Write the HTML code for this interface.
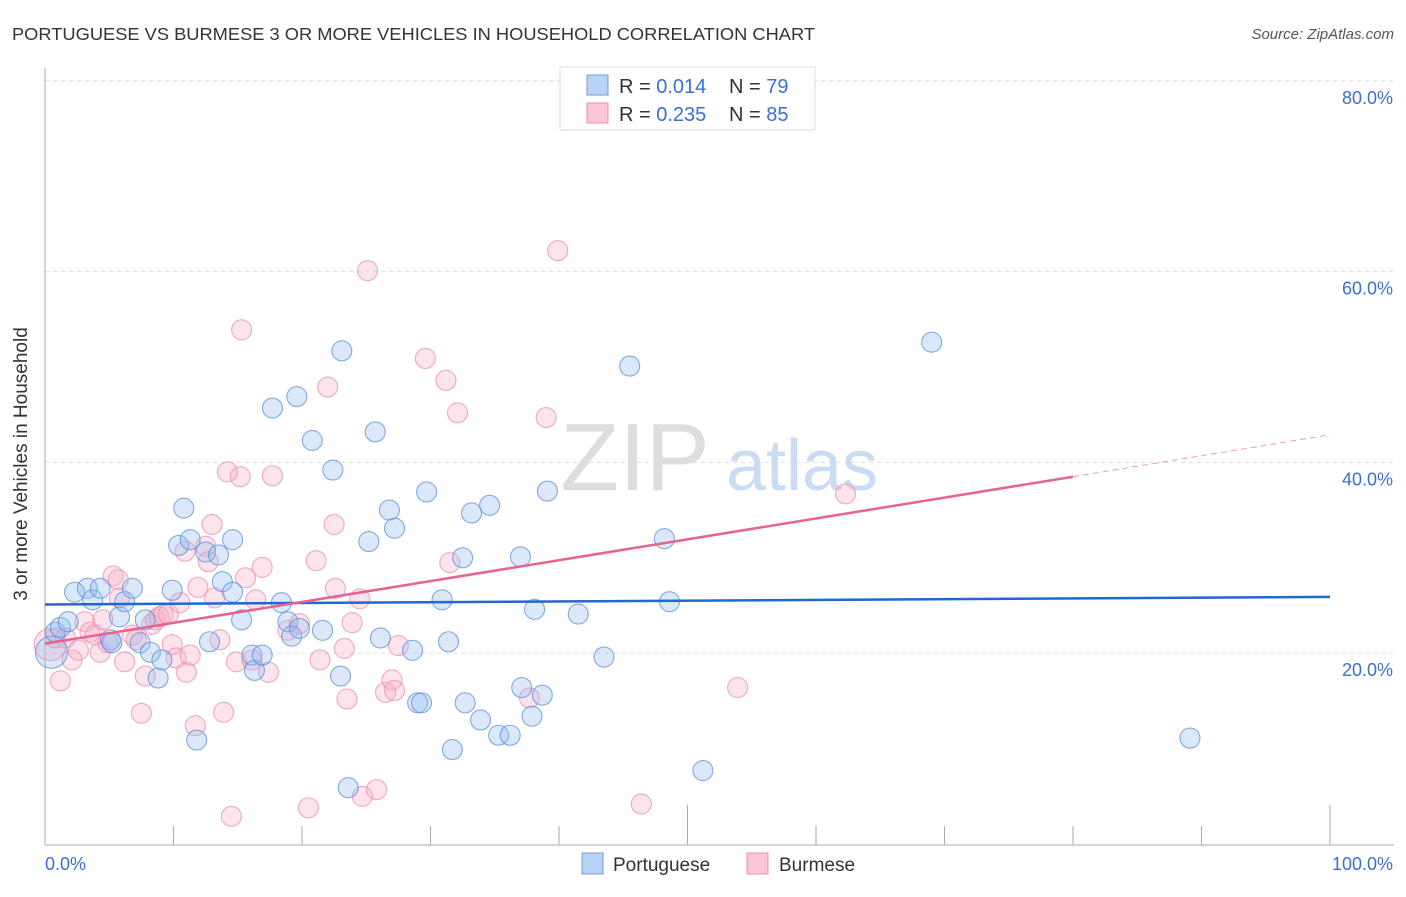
<!DOCTYPE html>
<html><head><meta charset="utf-8"><style>
body{margin:0;background:#fff;font-family:"Liberation Sans",sans-serif}
svg text{font-family:"Liberation Sans",sans-serif}
</style></head><body>
<svg width="1406" height="892" xmlns="http://www.w3.org/2000/svg">
<text x="12" y="40" font-size="17.5" fill="#333" textLength="803" lengthAdjust="spacingAndGlyphs">PORTUGUESE VS BURMESE 3 OR MORE VEHICLES IN HOUSEHOLD CORRELATION CHART</text>
<text x="1394" y="39" font-size="15" fill="#555" font-style="italic" text-anchor="end">Source: ZipAtlas.com</text>
<g id="grid"></g>
<g>
<text x="635" y="490" font-size="96" fill="#ddd" font-family="Liberation Serif" text-anchor="middle">ZIP</text>
<text x="802" y="490" font-size="72" fill="#c9dcf3" text-anchor="middle">atlas</text>
</g>
<g id="axes"></g>
<g id="pts"></g>
<g id="trend"></g>
<text x="18" y="455" font-size="19" fill="#333" text-anchor="middle" transform="rotate(-90 27 455)">3 or more Vehicles in Household</text>
<g>
<rect x="560" y="67" width="255" height="63" fill="#fff" stroke="#ddd"/>
<rect x="587" y="75" width="21" height="20" fill="#b9d3f5" stroke="#6d9be0"/>
<rect x="587" y="103" width="21" height="20" fill="#fac6d6" stroke="#e892ae"/>
<text x="619" y="93" font-size="20" fill="#333">R = <tspan fill="#3b6fd0">0.014</tspan></text>
<text x="729" y="93" font-size="20" fill="#333">N = <tspan fill="#3b6fd0">79</tspan></text>
<text x="619" y="121" font-size="20" fill="#333">R = <tspan fill="#3b6fd0">0.235</tspan></text>
<text x="729" y="121" font-size="20" fill="#333">N = <tspan fill="#3b6fd0">85</tspan></text>
</g>
<g>
<rect x="582" y="853" width="21" height="21" fill="#b9d3f5" stroke="#6d9be0"/>
<text x="613" y="871" font-size="19" fill="#333">Portuguese</text>
<rect x="747" y="853" width="21" height="21" fill="#fac6d6" stroke="#e892ae"/>
<text x="779" y="871" font-size="19" fill="#333">Burmese</text>
</g>
</svg>
<script>
const yTicks=[20,40,60,80];
const xTickLabels=["0.0%","100.0%"];
const blueX=[0.5,0.8,1.2,1.8,2.3,3.3,3.7,4.3,5.1,5.2,5.8,6.2,6.8,7.4,7.8,8.2,8.8,9.1,9.9,10.4,10.8,11.3,11.8,12.5,12.8,13.5,13.8,14.6,14.6,15.3,16.1,16.3,16.9,17.7,18.4,18.9,19.2,19.6,19.8,20.8,21.6,22.4,23.0,23.1,23.6,25.2,25.7,26.1,26.8,27.2,28.6,29.0,29.3,29.7,30.9,31.4,31.7,32.5,32.7,33.2,33.9,34.6,35.3,36.2,37.0,37.1,37.9,38.1,38.7,39.1,41.5,43.5,45.5,48.2,48.6,51.2,69.0,89.1];
const blueY=[20.1,22.2,22.7,23.3,26.4,26.8,25.6,26.8,21.4,21.1,23.8,25.4,26.8,21.1,23.5,20.1,17.4,19.3,26.6,31.3,35.2,31.9,10.9,30.6,21.2,30.3,27.5,26.4,31.9,23.5,19.8,18.2,19.8,45.7,25.3,23.3,21.8,46.9,22.6,42.3,22.4,39.2,17.6,51.7,5.9,31.7,43.2,21.6,35.0,33.1,20.3,14.8,14.8,36.9,25.6,21.2,9.9,30.0,14.8,34.7,13.0,35.5,11.4,11.4,30.1,16.4,13.4,24.6,15.6,37.0,24.1,19.6,50.1,32.0,25.4,7.7,52.6,11.1];
const pinkX=[0.4,0.8,1.2,1.6,2.1,2.6,3.1,3.5,3.9,4.3,4.5,4.9,5.3,5.7,5.8,6.2,6.8,7.1,7.5,7.8,8.3,8.6,8.9,9.2,9.6,9.9,10.2,10.5,10.9,11.0,11.3,11.7,11.9,12.5,12.7,13.0,13.2,13.6,13.9,14.2,14.5,14.9,15.2,15.3,15.6,16.1,16.4,16.9,17.4,17.7,18.9,19.8,20.5,21.1,21.4,22.0,22.5,22.6,23.3,23.5,23.9,24.5,24.7,25.1,25.8,26.5,27.0,27.2,27.5,29.6,31.5,31.2,32.1,37.7,39.0,39.9,46.4,53.9,62.3];
const pinkY=[20.9,21.6,17.1,21.6,19.3,20.3,23.3,22.2,21.9,20.1,23.5,21.1,28.1,27.7,25.8,19.1,21.9,21.4,13.7,17.6,23.0,23.5,23.8,24.0,24.1,20.9,19.5,25.3,30.7,18.0,19.8,12.4,26.9,31.2,29.6,33.5,25.8,21.4,13.8,39.0,2.9,19.1,38.5,53.9,27.9,19.3,25.6,29.0,18.0,38.6,22.4,23.1,3.8,29.7,19.3,47.9,33.5,26.8,20.5,15.2,23.2,25.7,5.0,60.1,5.7,15.9,17.2,16.1,20.8,50.9,29.5,48.6,45.2,15.3,44.7,62.2,4.2,16.4,36.7];
const blueTrend=[25.1,25.9];
const pinkTrend=[21.0,38.5,42.9];
const X=v=>45+v*12.85, Y=v=>844-v*9.54;
const NS="http://www.w3.org/2000/svg";
function mk(t,a,p){const e=document.createElementNS(NS,t);for(const k in a)e.setAttribute(k,a[k]);p.appendChild(e);return e;}
const grid=document.getElementById('grid'),axes=document.getElementById('axes'),pts=document.getElementById('pts'),tr=document.getElementById('trend');
yTicks.forEach(v=>{
 const l=mk('line',{x1:45,x2:1394,y1:Y(v),y2:Y(v),stroke:'#ddd','stroke-dasharray':'4,4'},grid);
 
 
 const t=mk('text',{x:1393,y:Y(v)+23,'font-size':18,fill:'#3b6fd0','text-anchor':'end'},grid);
 t.textContent=v.toFixed(1)+'%';
 
 
});
mk('line',{x1:45,x2:45,y1:68,y2:845,stroke:'#aaa'},axes);
mk('line',{x1:45,x2:1394,y1:845,y2:845,stroke:'#aaa'},axes);
for(let i=1;i<=10;i++){const l=mk('line',{x1:X(i*10),x2:X(i*10),y1:(i==5||i==10)?805:826,y2:845,stroke:'#aaa'},axes);
 
 }
const t0=mk('text',{x:45,y:870,'font-size':18,fill:'#3b6fd0'},axes);t0.textContent=xTickLabels[0];


const t1=mk('text',{x:1393,y:870,'font-size':18,fill:'#3b6fd0','text-anchor':'end'},axes);t1.textContent=xTickLabels[1];


function drawPts(xs,ys,fill,stroke,name){xs.forEach((x,i)=>{const c=mk('circle',{cx:X(x),cy:Y(ys[i]),r:i==0?16:10,fill:fill,stroke:stroke,'stroke-width':1.1,'stroke-opacity':0.75},pts);
 
 });}
drawPts(pinkX,pinkY,'rgba(248,175,198,0.35)','#e88fae','burmese-point');
drawPts(blueX,blueY,'rgba(150,190,240,0.35)','#5b8fd8','portuguese-point');
const bl=mk('line',{x1:X(0),x2:X(100),y1:Y(blueTrend[0]),y2:Y(blueTrend[1]),stroke:'#1f68d0','stroke-width':2.5},tr);


const pl=mk('line',{x1:X(0),x2:X(80),y1:Y(pinkTrend[0]),y2:Y(pinkTrend[1]),stroke:'#e8628e','stroke-width':2.5},tr);


const pd=mk('line',{x1:X(80),x2:X(100),y1:Y(pinkTrend[1]),y2:Y(pinkTrend[2]),stroke:'#e8a0b8','stroke-width':1,'stroke-dasharray':'6,4'},tr);


</script>
</body></html>
